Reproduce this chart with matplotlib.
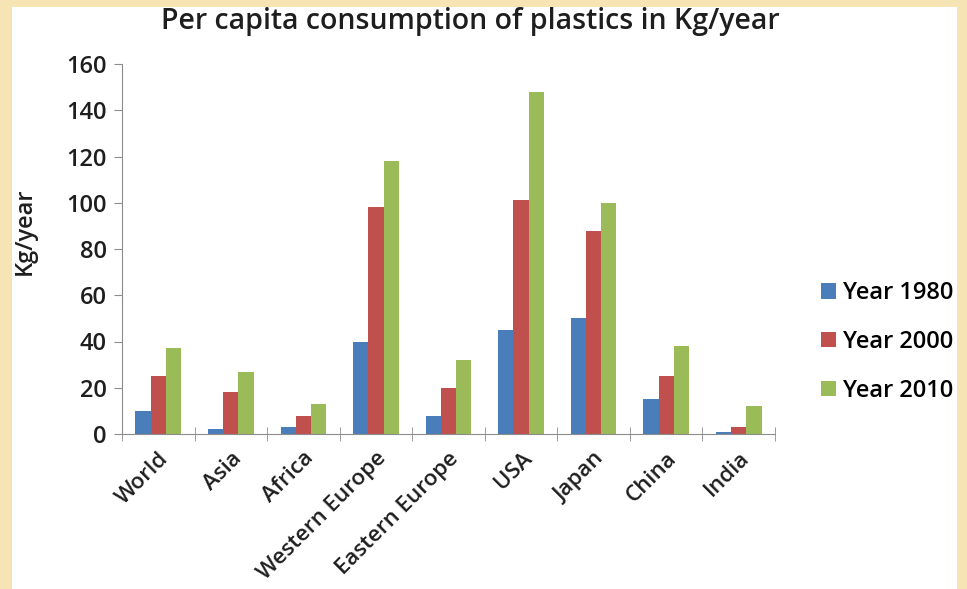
import matplotlib.pyplot as plt
import numpy as np
from matplotlib.patches import Rectangle

regions = ['World', 'Asia', 'Africa', 'Western Europe', 'Eastern Europe',
           'USA', 'Japan', 'China', 'India']
year_1980 = [10, 2, 3, 40, 8, 45, 50, 15, 1]
year_2000 = [25, 18, 8, 98, 20, 101, 88, 25, 3]
year_2010 = [37, 27, 13, 118, 32, 148, 100, 38, 12]
series = ['Year 1980', 'Year 2000', 'Year 2010']
colors = ['#4A7EBB', '#C0504D', '#9BBB59']

plt.rcParams['font.family'] = ['Open Sans', 'DejaVu Sans']
txt = '#1e1e1e'

fig = plt.figure(figsize=(9.67, 5.89), dpi=100)
fig.patch.set_facecolor('#F7E4B5')
# white slide panel
fig.patches.append(Rectangle((12 / 967, 0), 945 / 967, 582 / 589,
                             transform=fig.transFigure, facecolor='white',
                             edgecolor='none', zorder=-10))

ax = fig.add_axes([122 / 967, 1 - 434 / 589, 653 / 967, 370 / 589])
ax.set_facecolor('none')

x = np.arange(len(regions))
w = 0.21
for i, (vals, name) in enumerate(zip([year_1980, year_2000, year_2010], series)):
    ax.bar(x + (i - 1) * w, vals, width=w, color=colors[i], label=name)

ax.set_xlim(-0.5, len(regions) - 0.5)
ax.set_ylim(0, 160)
ax.set_yticks(range(0, 161, 20))
ax.set_xticks(x)
ax.set_xticklabels(regions, rotation=45, ha='right', rotation_mode='anchor',
                   fontsize=16, color=txt, fontweight='semibold')
ax.set_xticks(np.arange(-0.5, len(regions), 1), minor=True)
ax.tick_params(axis='x', which='major', length=0, pad=10)
ax.tick_params(axis='x', which='minor', direction='inout', length=10,
               color='#8C8C8C')
ax.tick_params(axis='y', length=6, color='#8C8C8C', labelsize=17,
               labelcolor=txt, pad=5)
for lab in ax.get_yticklabels():
    lab.set_fontweight('semibold')

for s in ['top', 'right']:
    ax.spines[s].set_visible(False)
for s in ['left', 'bottom']:
    ax.spines[s].set_color('#8C8C8C')

fig.text(25 / 967, 1 - 231 / 589, 'Kg/year', rotation=90, ha='center',
         va='center', fontsize=17, color=txt, fontweight='semibold')
fig.text(470 / 967, 1 - 21 / 589, 'Per capita consumption of plastics in Kg/year',
         ha='center', va='center', fontsize=20.5, color=txt,
         fontweight='semibold')

leg = fig.legend(loc='upper left', bbox_to_anchor=(800 / 967, 1 - 260 / 589),
                 frameon=False, handlelength=0.62, handleheight=0.62,
                 labelspacing=1.05, handletextpad=0.3,
                 prop={'size': 17, 'weight': 'semibold'})
# the slide edge cuts the legend text
for t in leg.get_texts():
    t.set_clip_path(fig.patches[0])

fig.savefig('out.png', dpi=100)
